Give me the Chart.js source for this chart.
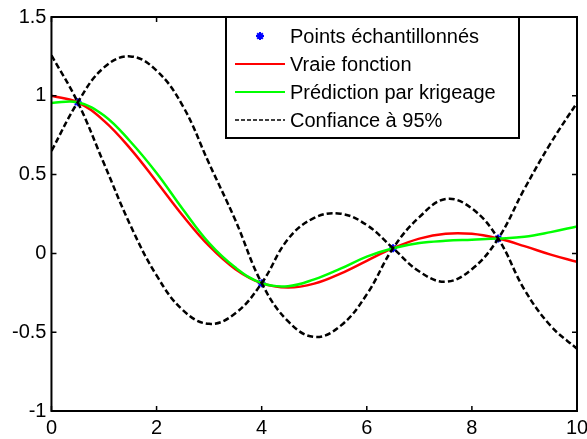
<!DOCTYPE html>
<html>
<head>
<meta charset="utf-8">
<script src="https://cdn.jsdelivr.net/npm/chart.js@4.4.0/dist/chart.umd.min.js"></script>
<style>
    html, body { margin: 0; padding: 0; background: #fff; overflow: hidden; }
    #wrap { position: relative; width: 587px; height: 439px; overflow: hidden; }
</style>
</head>
<body>
<div id="wrap"><canvas id="krigChart" width="600" height="445"></canvas></div>
<script>
const xGrid = [0, 0.5, 1, 1.5, 2, 2.5, 3, 3.5, 4, 4.5, 5, 5.5, 6, 6.5, 7, 7.5, 8, 8.5, 9, 9.5, 10];

// Vraie fonction
const trueValues = [1.0, 0.959, 0.841, 0.665, 0.455, 0.239, 0.047, -0.100, -0.189, -0.217, -0.192,
    -0.128, -0.047, 0.033, 0.094, 0.125, 0.124, 0.094, 0.046, -0.008, -0.054];

// Prédiction par krigeage
const krigValues = [0.955, 0.959, 0.875, 0.71, 0.51, 0.28, 0.065, -0.09, -0.189, -0.208, -0.165,
    -0.097, -0.02, 0.033, 0.066, 0.080, 0.087, 0.094, 0.105, 0.135, 0.171];

// the two dashed 95% bounds (they cross at every sample)
const boundA = [1.257, 0.959, 0.57, 0.18, -0.14, -0.36, -0.447, -0.38, -0.189, 0.09, 0.225,
    0.252, 0.18, 0.033, -0.115, -0.18, -0.10, 0.094, 0.41, 0.70, 0.956];
const boundB = [0.65, 0.959, 1.18, 1.25, 1.16, 0.935, 0.57, 0.21, -0.189, -0.43, -0.53,
    -0.46, -0.26, 0.033, 0.23, 0.345, 0.285, 0.094, -0.23, -0.46, -0.605];

// Points échantillonnés
const sampleX = [0.5, 4, 6.5, 8.5];
const sampleY = [0.959, -0.189, 0.033, 0.094];

const xTickValues = [0, 2, 4, 6, 8, 10];
const xTickLabels = ['0', '2', '4', '6', '8', '10'];
const yTickValues = [-1, -0.5, 0, 0.5, 1, 1.5];
const yTickLabels = ['-1', '-0.5', '0', '0.5', '1', '1.5'];

const FONT = { family: '"Liberation Sans", Arial, sans-serif', size: 20 };

const toPoints = (xs, ys) => xs.map((x, i) => ({ x: x, y: ys[i] }));

// MATLAB-like box with inward ticks on all four sides
const framePlugin = {
    id: 'frame',
    afterDatasetsDraw(chart) {
        const { ctx, chartArea: a, scales } = chart;
        ctx.save();
        ctx.strokeStyle = '#000';
        ctx.lineWidth = 2;
        ctx.strokeRect(a.left, a.top, a.right - a.left, a.bottom - a.top);
        ctx.lineWidth = 1.5;
        ctx.beginPath();
        scales.x.ticks.forEach(t => {
            const px = scales.x.getPixelForValue(t.value);
            ctx.moveTo(px, a.bottom); ctx.lineTo(px, a.bottom - 5);
            ctx.moveTo(px, a.top); ctx.lineTo(px, a.top + 5);
        });
        scales.y.ticks.forEach(t => {
            const py = scales.y.getPixelForValue(t.value);
            ctx.moveTo(a.left, py); ctx.lineTo(a.left + 5, py);
            ctx.moveTo(a.right, py); ctx.lineTo(a.right - 5, py);
        });
        ctx.stroke();
        ctx.restore();
    }
};

// boxed legend in the upper right, built from the datasets
const boxLegend = {
    id: 'boxLegend',
    afterDraw(chart) {
        const { ctx } = chart;
        const box = { left: 226, top: 17, width: 293, height: 121 };
        const rowH = 28;
        ctx.save();
        ctx.fillStyle = '#fff';
        ctx.fillRect(box.left, box.top, box.width, box.height);
        ctx.strokeStyle = '#000';
        ctx.lineWidth = 2;
        ctx.strokeRect(box.left, box.top, box.width, box.height);

        const entries = chart.data.datasets.filter(ds => !ds.noLegend);
        entries.forEach((ds, i) => {
            const y = box.top + 19 + i * rowH;
            const x0 = box.left + 9, x1 = box.left + 59;
            ctx.strokeStyle = ds.borderColor;
            ctx.fillStyle = ds.borderColor;
            if (ds.showLine === false) {
                ctx.lineWidth = ds.borderWidth;
                Chart.helpers.drawPoint(ctx, {
                    pointStyle: ds.pointStyle, radius: ds.pointRadius, borderWidth: ds.borderWidth
                }, (x0 + x1) / 2, y);
            } else {
                ctx.lineWidth = ds.borderDash ? 1.5 : 2;
                ctx.setLineDash(ds.borderDash ? [4, 2] : []);
                ctx.beginPath();
                ctx.moveTo(x0, y);
                ctx.lineTo(x1, y);
                ctx.stroke();
                ctx.setLineDash([]);
            }
            ctx.fillStyle = '#000';
            ctx.font = `${FONT.size}px ${FONT.family}`;
            ctx.textBaseline = 'middle';
            ctx.textAlign = 'left';
            ctx.fillText(ds.label, box.left + 64, y + 1);
        });
        ctx.restore();
    }
};

const ctx = document.getElementById('krigChart').getContext('2d');

new Chart(ctx, {
    type: 'line',
    data: {
        datasets: [
            {
                label: 'Points échantillonnés',
                data: toPoints(sampleX, sampleY),
                showLine: false,
                pointStyle: 'star',
                pointRadius: 4,
                borderColor: '#0000ff',
                backgroundColor: '#0000ff',
                borderWidth: 2,
                order: 4
            },
            {
                label: 'Vraie fonction',
                data: toPoints(xGrid, trueValues),
                borderColor: '#ff0000',
                borderWidth: 2.5,
                pointRadius: 0,
                tension: 0.4,
                order: 3
            },
            {
                label: 'Prédiction par krigeage',
                data: toPoints(xGrid, krigValues),
                borderColor: '#00ff00',
                borderWidth: 2.5,
                pointRadius: 0,
                tension: 0.4,
                order: 2
            },
            {
                label: 'Confiance à 95%',
                data: toPoints(xGrid, boundA),
                borderColor: '#000000',
                borderWidth: 2.5,
                borderDash: [6, 3],
                pointRadius: 0,
                tension: 0.4,
                order: 1
            },
            {
                label: 'Confiance à 95%',
                data: toPoints(xGrid, boundB),
                borderColor: '#000000',
                borderWidth: 2.5,
                borderDash: [6, 3],
                pointRadius: 0,
                tension: 0.4,
                noLegend: true,
                order: 0
            }
        ]
    },
    options: {
        responsive: false,
        animation: false,
        devicePixelRatio: 1,
        layout: { padding: { left: 7, right: 23, top: 9, bottom: 0 } },
        plugins: {
            legend: { display: false },
            tooltip: { enabled: false }
        },
        scales: {
            x: {
                type: 'linear',
                min: 0,
                max: 10,
                afterBuildTicks: s => { s.ticks = xTickValues.map(v => ({ value: v })); },
                ticks: {
                    color: '#000', font: FONT, padding: 5, maxRotation: 0,
                    callback: (v, i) => xTickLabels[i]
                },
                grid: { display: false, drawTicks: false },
                border: { display: false }
            },
            y: {
                min: -1,
                max: 1.5,
                afterBuildTicks: s => { s.ticks = yTickValues.map(v => ({ value: v })); },
                ticks: {
                    color: '#000', font: FONT, padding: 5,
                    callback: (v, i) => yTickLabels[i]
                },
                grid: { display: false, drawTicks: false },
                border: { display: false }
            }
        }
    },
    plugins: [framePlugin, boxLegend]
});
</script>
</body>
</html>
